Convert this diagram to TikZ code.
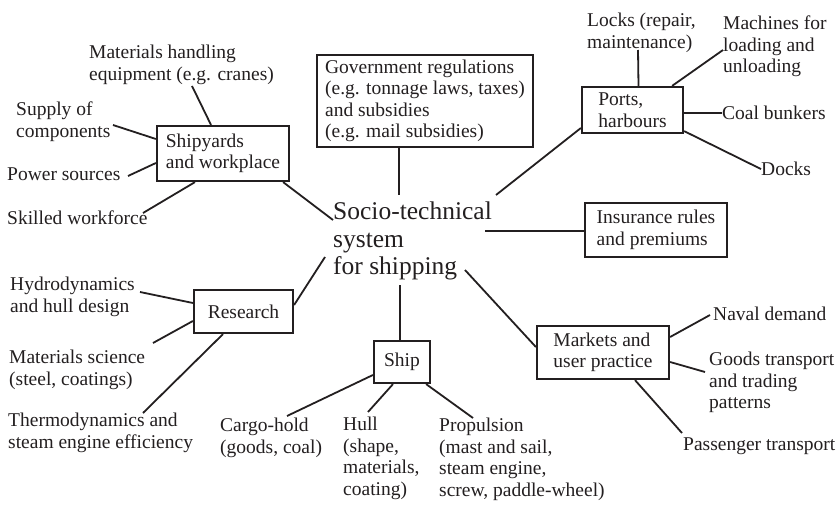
\documentclass[tikz,border=0pt]{standalone}
\usepackage{fontspec}
\setmainfont{Liberation Serif}
\definecolor{ink}{HTML}{231F20}
\newcommand\leaffont{\fontsize{19.5}{21.5}\selectfont}
\newcommand\corefont{\fontsize{25.5}{27.5}\selectfont}
\begin{document}
\begin{tikzpicture}[x=1pt,y=-1pt,
  every node/.style={text=ink},
  topic/.style={draw=ink, line width=2.2pt, inner sep=0pt, align=left, font=\leaffont},
  leaf/.style={inner sep=0pt, anchor=north west, align=left, font=\leaffont},
  link/.style={draw=ink, line width=1.8pt}]
\useasboundingbox[fill=white] (0,0) rectangle (840,505);

% central concept
\node[inner sep=0pt, anchor=north west, align=left, font=\corefont] (core) at (333,202)
  {Socio-technical\\system\\for shipping};

% topic boxes
\node[topic, minimum width=132pt, minimum height=55pt] (yard) at (223,153.5) {Shipyards\\and workplace};
\node[topic, minimum width=216pt, minimum height=92pt] (gov) at (425,101)
  {Government regulations\\(e.g. tonnage laws, taxes)\\and subsidies\\(e.g. mail subsidies)};
\node[topic, minimum width=101pt, minimum height=46pt] (port) at (632.5,110) {Ports,\\harbours};
\node[topic, minimum width=142pt, minimum height=54pt] (ins) at (656,230) {Insurance rules\\and premiums};
\node[topic, minimum width=99pt, minimum height=43pt] (res) at (243.5,311.5) {Research};
\node[topic, minimum width=56pt, minimum height=42pt] (ship) at (402,362) {Ship};
\node[topic, minimum width=132pt, minimum height=53pt] (mkt) at (603,352.5) {Markets and\\user practice};

% leaves
\node[leaf] (mhe) at (89,45) {Materials handling\\equipment (e.g. cranes)};
\node[leaf] (sup) at (16,102) {Supply of\\components};
\node[leaf] (pow) at (7,168) {Power sources};
\node[leaf] (skl) at (7,211) {Skilled workforce};

\node[leaf] (locks) at (587,13) {Locks (repair,\\maintenance)};
\node[leaf] (mach) at (723,16) {Machines for\\loading and\\unloading};
\node[leaf] (coal) at (722,106) {Coal bunkers};
\node[leaf] (docks) at (761,162) {Docks};

\node[leaf] (hyd) at (10,277) {Hydrodynamics\\and hull design};
\node[leaf] (mat) at (9,350) {Materials science\\(steel, coatings)};
\node[leaf] (thermo) at (8,413) {Thermodynamics and\\steam engine efficiency};

\node[leaf] (cargo) at (220,418) {Cargo-hold\\(goods, coal)};
\node[leaf] (hull) at (343,417) {Hull\\(shape,\\materials,\\coating)};
\node[leaf] (prop) at (439,418) {Propulsion\\(mast and sail,\\steam engine,\\screw, paddle-wheel)};

\node[leaf] (naval) at (713,307) {Naval demand};
\node[leaf] (goods) at (709,352) {Goods transport\\and trading\\patterns};
\node[leaf] (pass) at (683,438) {Passenger transport};

% spokes from the central concept
\draw[link] ([shift={(66,-7)}]core.north west) -- ([shift={(-26,0)}]gov.south);
\draw[link] ([shift={(0,18)}]core.north west) -- ([shift={(-7,0)}]yard.south east);
\draw[link] ([shift={(163,-7)}]core.north west) -- ([shift={(0,18)}]port.west);
\draw[link] ([shift={(152,29)}]core.north west) -- ([shift={(0,1)}]ins.west);
\draw[link] ([shift={(-8,55)}]core.north west) -- ([shift={(0,-6.5)}]res.east);
\draw[link] ([shift={(67,83)}]core.north west) -- ([shift={(-2,0)}]ship.north);
\draw[link] ([shift={(132,68)}]core.north west) -- ([shift={(0,-5.5)}]mkt.west);

% shipyards
\draw[link] ([shift={(103,41)}]mhe.north west) -- ([shift={(-12,0)}]yard.north);
\draw[link] ([shift={(97,23)}]sup.north west) -- ([shift={(0,-14.5)}]yard.west);
\draw[link] ([shift={(121,8)}]pow.north west) -- ([shift={(0,9.5)}]yard.west);
\draw[link] ([shift={(136,2)}]skl.north west) -- ([shift={(-28,0)}]yard.south);

% ports
\draw[link] ([shift={(51,37)}]locks.north west) -- ([shift={(6,0)}]port.north);
\draw[link] ([shift={(0,34)}]mach.north west) -- ([shift={(-12,0)}]port.north east);
\draw[link] (coal.west) -- (port.east |- coal.west);
\draw[link] (docks.west) -- ([shift={(0,-3)}]port.south east);

% research
\draw[link] ([shift={(130,15)}]hyd.north west) -- ([shift={(0,-8.5)}]res.west);
\draw[link] ([shift={(144,-7)}]mat.north west) -- ([shift={(0,9.5)}]res.west);
\draw[link] ([shift={(135,0)}]thermo.north west) -- ([shift={(-20.5,0)}]res.south);

% ship
\draw[link] ([shift={(67,-2)}]cargo.north west) -- ([shift={(0,13)}]ship.west);
\draw[link] ([shift={(25,-5)}]hull.north west) -- ([shift={(-9,0)}]ship.south);
\draw[link] ([shift={(34,0)}]prop.north west) -- ([shift={(-5,0)}]ship.south east);

% markets
\draw[link] ([shift={(-3,8)}]naval.north west) -- ([shift={(0,-15.5)}]mkt.east);
\draw[link] ([shift={(-4,20)}]goods.north west) -- ([shift={(0,9.5)}]mkt.east);
\draw[link] ([shift={(-1,-5)}]pass.north west) -- ([shift={(32,0)}]mkt.south);
\end{tikzpicture}
\end{document}
